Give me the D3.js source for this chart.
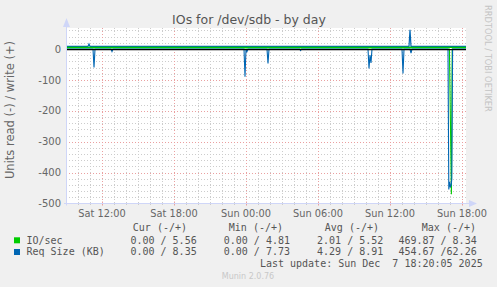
<!DOCTYPE html>
<html><head><meta charset="utf-8">
<script src="https://cdn.jsdelivr.net/npm/d3@7"></script>
<style>
html,body{margin:0;padding:0;background:#f0f0f0;}
svg{display:block;}
text{font-family:"DejaVu Sans",sans-serif;}
.mono{font-family:"DejaVu Sans Mono",monospace;white-space:pre;}
</style></head>
<body>
<script>
// ---- data (minute offsets from Sat 09:00, values) ----
const startTime = new Date(2025, 11, 6, 9, 0);
const endTime = new Date(2025, 11, 7, 18, 20);
const title = "IOs for /dev/sdb - by day";
const yLabel = "Units read (-) / write (+)";
const yMajorTicks = [0, -100, -200, -300, -400, -500];
const seriesNames = ["IO/sec", "Req Size (KB)"];
const seriesColors = ["#00cc00", "#0066b3"];
// read (shown negative)
const ioRead = [[0,0],[1917,0],[1922,230],[1927,469.87],[1931,0],[2000,0]];
const ioWrite = [[0,5.5],[300,5.6],[600,5.45],[900,5.5],[1200,5.6],[1500,5.5],[1800,5.6],[2000,5.56]];
const reqRead = [[0,0],[135,0],[140,60],[145,0],[225,0],[230,8],[235,0],[890,0],[895,90],[900,0],[905,8],[910,0],
  [1005,0],[1010,47],[1015,0],[1168,0],[1173,5],[1178,0],[1510,0],[1515,63],[1520,20],[1525,45],[1530,0],
  [1680,0],[1685,79],[1690,0],[1720,0],[1725,13],[1730,0],[1910,0],[1914,454.67],[1918,430],[1922,448],
  [1926,440],[1929,420],[1933,0],[2000,0]];
const reqWrite = [[0,8.3],[110,8.3],[115,16],[120,8.3],[1715,8.3],[1720,62.26],[1725,8.3],[2000,8.35]];
const legendHeaders = ["Cur (-/+)", "Min (-/+)", "Avg (-/+)", "Max (-/+)"];
const legendRows = [
  ["0.00 / 5.56", "0.00 / 4.81", "2.01 / 5.52", "469.87 / 8.34"],
  ["0.00 / 8.35", "0.00 / 7.73", "4.29 / 8.91", "454.67 /62.26"]
];
const lastUpdate = "Last update: Sun Dec  7 18:20:05 2025";
const footer = "Munin 2.0.76";
const watermark = "RRDTOOL / TOBI OETIKER";

// ---- layout ----
const W = 497, H = 287;
const L = 66, R = 466, T = 28, B = 203.5;
const svg = d3.select("body").append("svg").attr("width", W).attr("height", H);
svg.append("rect").attr("width", W).attr("height", H).attr("fill", "#f0f0f0");
svg.append("rect").attr("x", L).attr("y", T).attr("width", R - L).attr("height", B - T).attr("fill", "#fff");

const x = d3.scaleTime().domain([startTime, endTime]).range([L, R]);
const y = d3.scaleLinear().domain([-500, 68]).range([B, T]);
const toDate = m => new Date(startTime.getTime() + m * 60000);

const minorC = "#cccccc", majorC = "#eaa0a0", axisC = "#cfd6f8";
const g = svg.append("g");

// minor grid
const yMinor = d3.range(-480, 68, 20).filter(v => v % 100 !== 0);
g.selectAll(".ymin").data(yMinor).join("line")
  .attr("x1", L).attr("x2", R).attr("y1", d => Math.round(y(d)) + 0.5).attr("y2", d => Math.round(y(d)) + 0.5)
  .attr("stroke", minorC).attr("stroke-dasharray", "1,2");
const xMinor = x.ticks(d3.timeHour.every(1)).filter(d => d.getHours() % 6 !== 0);
g.selectAll(".xmin").data(xMinor).join("line")
  .attr("x1", d => Math.round(x(d)) + 0.5).attr("x2", d => Math.round(x(d)) + 0.5).attr("y1", T).attr("y2", B)
  .attr("stroke", minorC).attr("stroke-dasharray", "1,2");
// major grid
g.selectAll(".ymaj").data(yMajorTicks.filter(v => v > -500)).join("line")
  .attr("x1", L).attr("x2", R).attr("y1", d => Math.round(y(d)) + 0.5).attr("y2", d => Math.round(y(d)) + 0.5)
  .attr("stroke", majorC).attr("stroke-dasharray", "1,2");
const xMajor = x.ticks(d3.timeHour.every(6));
g.selectAll(".xmaj").data(xMajor).join("line")
  .attr("x1", d => Math.round(x(d)) + 0.5).attr("x2", d => Math.round(x(d)) + 0.5).attr("y1", T).attr("y2", B)
  .attr("stroke", majorC).attr("stroke-dasharray", "1,2");

// ticks on axes
g.selectAll(".xmint").data(xMinor).join("line")
  .attr("x1", d => Math.round(x(d)) + 0.5).attr("x2", d => Math.round(x(d)) + 0.5).attr("y1", B - 1.5).attr("y2", B + 1.5)
  .attr("stroke", minorC);
g.selectAll(".xmajt").data(xMajor).join("line")
  .attr("x1", d => Math.round(x(d)) + 0.5).attr("x2", d => Math.round(x(d)) + 0.5).attr("y1", B - 2).attr("y2", B + 2)
  .attr("stroke", majorC);

// series
const line = d3.line().x(d => x(toDate(d[0]))).y(d => y(d[1]));
const neg = arr => arr.map(d => [d[0], -d[1]]);
const drawSeries = (arr, ci, isNeg, w) => svg.append("path").datum(isNeg ? neg(arr) : arr).attr("d", line)
  .attr("fill", "none").attr("stroke", seriesColors[ci]).attr("stroke-width", w || 1.1);
drawSeries(ioRead, 0, true);
drawSeries(reqRead, 1, true);
// zero rule
svg.append("line").attr("x1", L).attr("x2", R).attr("y1", y(0) + 0.6).attr("y2", y(0) + 0.6)
  .attr("stroke", "#000").attr("stroke-width", 1.3);
drawSeries(reqWrite, 1, false, 1.2);
drawSeries(ioWrite, 0, false, 1.3);

// axes
svg.append("line").attr("x1", L + 0.5).attr("x2", L + 0.5).attr("y1", 22).attr("y2", B + 2).attr("stroke", axisC);
svg.append("line").attr("x1", L - 2).attr("x2", R + 4).attr("y1", B).attr("y2", B).attr("stroke", axisC);
svg.append("path").attr("d", `M${L - 3},${27} L${L + 0.5},${18} L${L + 4},${27} Z`).attr("fill", axisC);
svg.append("path").attr("d", `M${R + 3},${B - 3.5} L${R + 11},${B} L${R + 3},${B + 3.5} Z`).attr("fill", axisC);

// y tick labels
svg.selectAll(".ytl").data(yMajorTicks).join("text")
  .attr("x", 61).attr("y", d => y(d) + 3.6).attr("text-anchor", "end")
  .attr("font-size", 10).attr("fill", "#666").text(d => d);
// x tick labels
svg.selectAll(".xtl").data(xMajor).join("text")
  .attr("x", d => x(d)).attr("y", 216.5).attr("text-anchor", "middle")
  .attr("font-size", 9.8).attr("fill", "#666").text(d3.timeFormat("%a %H:%M"));

// title
svg.append("text").attr("x", 249).attr("y", 23.5).attr("text-anchor", "middle")
  .attr("font-size", 12.5).attr("fill", "#555").text(title);
// y label
svg.append("text").attr("transform", "translate(14,110) rotate(-90)").attr("text-anchor", "middle")
  .attr("font-size", 11.5).attr("fill", "#666").text(yLabel);
// watermark
svg.append("text").attr("transform", "translate(484.5,5) rotate(90)").attr("text-anchor", "start")
  .attr("font-size", 8.3).attr("fill", "#c4c4c4").text(watermark);

// legend
const hdrX = [187, 283, 379, 476];
const valX = [196.7, 290, 383.3, 476.7];
svg.selectAll(".lh").data(legendHeaders).join("text").attr("class", "mono")
  .attr("x", (d, i) => hdrX[i]).attr("y", 231).attr("text-anchor", "end")
  .attr("font-size", 10).attr("fill", "#555").text(d => d);
seriesNames.forEach((n, r) => {
  const yy = 243.5 + r * 11.7;
  svg.append("rect").attr("x", 14).attr("y", yy - 6.2).attr("width", 6).attr("height", 6).attr("fill", seriesColors[r]);
  svg.append("text").attr("class", "mono").attr("x", 26.5).attr("y", yy).attr("font-size", 10).attr("fill", "#555").text(n);
  legendRows[r].forEach((v, i) => {
    svg.append("text").attr("class", "mono").attr("x", valX[i]).attr("y", yy).attr("text-anchor", "end")
      .attr("font-size", 10).attr("fill", "#555").text(v);
  });
});
svg.append("text").attr("class", "mono").attr("x", 482.7).attr("y", 267).attr("text-anchor", "end")
  .attr("font-size", 10).attr("fill", "#555").text(lastUpdate);
svg.append("text").attr("x", 248).attr("y", 279).attr("text-anchor", "middle")
  .attr("font-size", 8).attr("fill", "#c8c8c8").text(footer);
</script>
</body></html>
